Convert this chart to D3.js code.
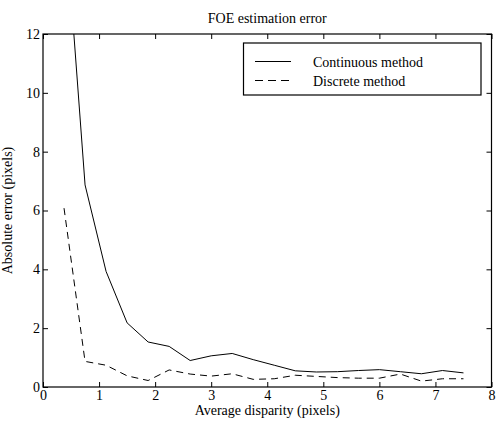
<!DOCTYPE html>
<html>
<head>
<meta charset="utf-8">
<script src="https://cdn.jsdelivr.net/npm/d3@7"></script>
<style>
  body { margin: 0; background: #fff; }
</style>
</head>
<body>
<div id="chart"></div>
<script>
// Data
const disparity = [0.375, 0.75, 1.125, 1.5, 1.875, 2.25, 2.625, 3.0, 3.375, 3.75,
                   4.125, 4.5, 4.875, 5.25, 5.625, 6.0, 6.375, 6.75, 7.125, 7.5];
const continuousErr = [16.5, 6.87, 3.93, 2.18, 1.53, 1.38, 0.9, 1.06, 1.14, 0.93,
                       0.74, 0.55, 0.51, 0.52, 0.56, 0.59, 0.52, 0.45, 0.56, 0.48];
const discreteErr = [6.08, 0.87, 0.74, 0.38, 0.22, 0.58, 0.44, 0.37, 0.45, 0.26,
                     0.28, 0.4, 0.36, 0.32, 0.3, 0.3, 0.44, 0.2, 0.28, 0.28];
const xTicks = [0, 1, 2, 3, 4, 5, 6, 7, 8];
const yTicks = [0, 2, 4, 6, 8, 10, 12];
const seriesNames = ["Continuous method", "Discrete method"];

let width = 497;
let height = 422;
let margin = { left: 43, right: 5.5, top: 34, bottom: 35 };
let serif = "'Liberation Serif', serif";

let svg = d3.select("#chart")
    .append("svg")
    .attr("width", width)
    .attr("height", height)
    .attr("font-family", serif);

let x = d3.scaleLinear().domain([0, 8]).range([margin.left, width - margin.right]);
let y = d3.scaleLinear().domain([0, 12]).range([height - margin.bottom, margin.top]);

svg.append("clipPath").attr("id", "plot-clip")
    .append("rect")
    .attr("x", x(0)).attr("y", y(12))
    .attr("width", x(8) - x(0)).attr("height", y(0) - y(12));

// Axes, ticks pointing inward on all four sides
function styleAxis(g) {
    g.attr("font-family", serif).attr("font-size", 14);
    g.select(".domain").remove();
    g.selectAll(".tick line").attr("stroke", "#000").attr("stroke-width", 1);
    g.selectAll(".tick text").attr("fill", "#000").style("font-family", serif).style("font-size", "14px");
}

svg.append("g")
    .attr("transform", `translate(0,${y(0)})`)
    .call(d3.axisBottom(x).tickValues(xTicks).tickSize(-5).tickPadding(3).tickFormat(d3.format("d")))
    .call(styleAxis);

svg.append("g")
    .attr("transform", `translate(0,${y(12)})`)
    .call(d3.axisTop(x).tickValues(xTicks).tickSize(-5).tickFormat(""))
    .call(styleAxis);

svg.append("g")
    .attr("transform", `translate(${x(0)},0)`)
    .call(d3.axisLeft(y).tickValues(yTicks).tickSize(-5).tickPadding(3).tickFormat(d3.format("d")))
    .call(styleAxis);

svg.append("g")
    .attr("transform", `translate(${x(8)},0)`)
    .call(d3.axisRight(y).tickValues(yTicks).tickSize(-5).tickFormat(""))
    .call(styleAxis);

// frame
svg.append("rect")
    .attr("x", x(0)).attr("y", y(12))
    .attr("width", x(8) - x(0)).attr("height", y(0) - y(12))
    .attr("fill", "none")
    .attr("stroke", "#000")
    .attr("stroke-width", 1.2);

// lines
let line = d3.line()
    .x((d) => x(d[0]))
    .y((d) => y(d[1]));

let plot = svg.append("g").attr("clip-path", "url(#plot-clip)");

plot.append("path")
    .datum(disparity.map((d, i) => [d, continuousErr[i]]))
    .attr("d", line)
    .attr("fill", "none")
    .attr("stroke", "#000")
    .attr("stroke-width", 1);

plot.append("path")
    .datum(disparity.map((d, i) => [d, discreteErr[i]]))
    .attr("d", line)
    .attr("fill", "none")
    .attr("stroke", "#000")
    .attr("stroke-width", 1)
    .attr("stroke-dasharray", "7,5");

// title and axis labels
function label(sel) {
    sel.style("font-family", serif).style("font-size", "14px").attr("fill", "#000");
}

svg.append("text")
    .attr("x", (x(0) + x(8)) / 2)
    .attr("y", 23)
    .attr("text-anchor", "middle")
    .call(label)
    .text("FOE estimation error");

svg.append("text")
    .attr("x", (x(0) + x(8)) / 2)
    .attr("y", 415)
    .attr("text-anchor", "middle")
    .call(label)
    .text("Average disparity (pixels)");

svg.append("text")
    .attr("transform", `translate(12,${(y(0) + y(12)) / 2}) rotate(-90)`)
    .attr("text-anchor", "middle")
    .call(label)
    .text("Absolute error (pixels)");

// legend
let legend = svg.append("g");
legend.append("rect")
    .attr("x", 243.5).attr("y", 43)
    .attr("width", 481 - 243.5).attr("height", 52)
    .attr("fill", "#fff")
    .attr("stroke", "#000")
    .attr("stroke-width", 1.2);

seriesNames.forEach((name, i) => {
    let ly = 61.5 + i * 19;
    legend.append("line")
        .attr("x1", 255).attr("x2", 291)
        .attr("y1", ly).attr("y2", ly)
        .attr("stroke", "#000")
        .attr("stroke-width", 1)
        .attr("stroke-dasharray", i === 1 ? "8,5" : null);
    legend.append("text")
        .attr("x", 313)
        .attr("y", ly + 5)
        .call(label)
        .text(name);
});
</script>
</body>
</html>
